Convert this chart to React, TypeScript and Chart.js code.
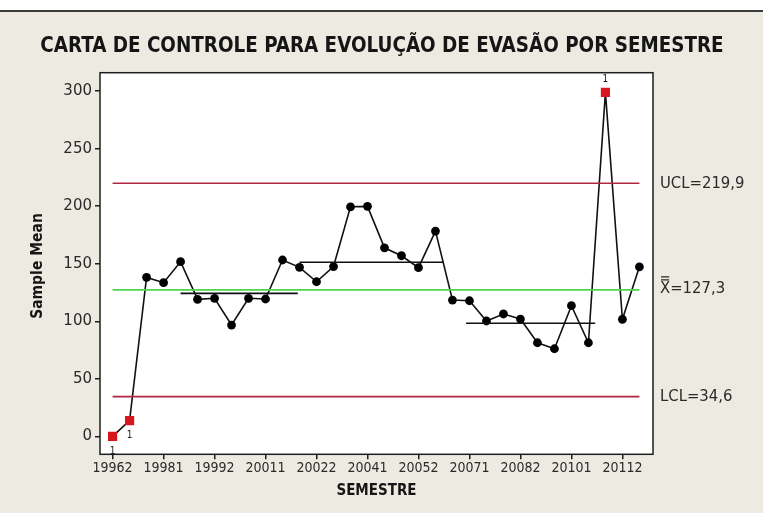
import React, { useEffect, useRef } from 'react';
import { Chart, registerables } from 'chart.js';

Chart.register(...registerables);

// ---- DATA ----
const semesters = [
  '19962', '19971', '19972', '19981', '19982', '19991', '19992', '20001',
  '20002', '20011', '20012', '20021', '20022', '20031', '20032', '20041',
  '20042', '20051', '20052', '20061', '20062', '20071', '20072', '20081',
  '20082', '20091', '20092', '20101', '20102', '20111', '20112', '20121',
];
const sampleMeans = [
  0, 13.7, 138.2, 133.6, 151.8, 119.1, 120, 96.8,
  120, 119.4, 153.3, 146.9, 134.4, 147.6, 199.5, 199.9,
  163.9, 157, 146.6, 178.4, 118.5, 117.9, 100.3, 106.4,
  102, 81.4, 76.2, 113.6, 81.4, 298.9, 101.8, 147.4,
];
const xTickIndices = [0, 3, 6, 9, 12, 15, 18, 21, 24, 27, 30];
const yTickValues = [0, 50, 100, 150, 200, 250, 300];
const UCL = 219.9;
const CENTER = 127.3;
const LCL = 34.6;
const stageStart = [4, 11, 20.8];
const stageEnd = [10.9, 19.5, 28.4];
const stageMean = [124.3, 151.3, 98.3];

const TITLE = 'CARTA DE CONTROLE PARA EVOLUÇÃO DE EVASÃO POR SEMESTRE';
const X_TITLE = 'SEMESTRE';
const Y_TITLE = 'Sample Mean';
const UCL_LABEL = 'UCL=219,9';
const CENTER_LABEL = 'X=127,3';
const LCL_LABEL = 'LCL=34,6';

const W = 763;
const H = 513;
const BG = '#EDEAE1';
const RED = '#B0283F';
const GREEN = '#4ED44E';
const TEXT = '#2a2a2a';
const COND = '"DejaVu Sans Condensed", "DejaVu Sans", sans-serif';

const isOut = (v: number) => v > UCL || v < LCL;

export default function App() {
  const ref = useRef<HTMLCanvasElement | null>(null);

  useEffect(() => {
    const canvas = ref.current;
    if (!canvas) return;

    const lastIdx = sampleMeans.length - 1;
    const points = sampleMeans.map((v, i) => ({ x: i, y: v }));

    const decor = {
      id: 'decor',
      beforeDraw(chart: any) {
        const { ctx, chartArea: ca } = chart;
        ctx.save();
        ctx.fillStyle = BG;
        ctx.fillRect(0, 0, W, H);
        ctx.fillStyle = '#ffffff';
        ctx.fillRect(0, 0, W, 10);
        ctx.fillStyle = '#3c3c3c';
        ctx.fillRect(0, 10, W, 2);
        ctx.fillStyle = '#ffffff';
        ctx.fillRect(ca.left, ca.top, ca.right - ca.left, ca.bottom - ca.top);
        ctx.restore();
      },
      beforeDatasetsDraw(chart: any) {
        const { ctx, chartArea: ca } = chart;
        ctx.save();
        ctx.strokeStyle = '#1e1e1e';
        ctx.lineWidth = 1.5;
        ctx.strokeRect(ca.left, ca.top, ca.right - ca.left, ca.bottom - ca.top);
        ctx.restore();
      },
      afterDraw(chart: any) {
        const { ctx, chartArea: ca, scales } = chart;
        const xs = scales.x;
        const ys = scales.y;
        ctx.save();
        // Title
        ctx.fillStyle = '#151515';
        ctx.textAlign = 'center';
        ctx.textBaseline = 'middle';
        ctx.font = `bold 20.4px ${COND}`;
        ctx.fillText(TITLE, 382, 47);
        // Axis titles
        ctx.font = `bold 15px ${COND}`;
        ctx.fillText(X_TITLE, (ca.left + ca.right) / 2, 491);
        ctx.save();
        ctx.translate(38, 266);
        ctx.rotate(-Math.PI / 2);
        ctx.font = `bold 15.5px ${COND}`;
        ctx.fillText(Y_TITLE, 0, 0);
        ctx.restore();
        // Control limit labels
        ctx.fillStyle = TEXT;
        ctx.textAlign = 'left';
        ctx.font = `16.5px ${COND}`;
        ctx.fillText(UCL_LABEL, 660, ys.getPixelForValue(UCL));
        ctx.fillText(LCL_LABEL, 660, ys.getPixelForValue(LCL));
        const cy = ys.getPixelForValue(CENTER) - 1;
        ctx.fillText(CENTER_LABEL, 660, cy);
        const xw = ctx.measureText('X').width;
        ctx.strokeStyle = TEXT;
        ctx.lineWidth = 1.2;
        ctx.beginPath();
        ctx.moveTo(661, cy - 9);
        ctx.lineTo(660 + xw - 1, cy - 9);
        ctx.moveTo(661, cy - 12);
        ctx.lineTo(660 + xw - 1, cy - 12);
        ctx.stroke();
        // Out-of-control test labels
        ctx.font = `10px ${COND}`;
        ctx.fillStyle = '#222';
        ctx.textAlign = 'center';
        sampleMeans.forEach((v, i) => {
          if (!isOut(v)) return;
          const px = xs.getPixelForValue(i);
          const py = ys.getPixelForValue(v);
          const dy = v > UCL ? -13 : 15;
          ctx.fillText('1', px, py + dy);
        });
        ctx.restore();
      },
    };

    const lineDs = (y: number, color: string) => ({
      data: [
        { x: 0, y },
        { x: lastIdx, y },
      ],
      borderColor: color,
      borderWidth: 1.6,
      pointRadius: 0,
      fill: false,
    });

    const stageDs = stageMean.map((m, k) => ({
      data: [
        { x: stageStart[k], y: m },
        { x: stageEnd[k], y: m },
      ],
      borderColor: '#111',
      borderWidth: 1.6,
      pointRadius: 0,
      fill: false,
    }));

    const chart = new Chart(canvas, {
      type: 'line',
      data: {
        datasets: [
          lineDs(UCL, RED),
          lineDs(CENTER, GREEN),
          lineDs(LCL, RED),
          ...stageDs,
          {
            data: points,
            borderColor: '#111',
            borderWidth: 1.6,
            pointStyle: sampleMeans.map((v) => (isOut(v) ? 'rect' : 'circle')) as any,
            pointRadius: sampleMeans.map((v) => (isOut(v) ? 6.5 : 4.4)),
            pointBackgroundColor: sampleMeans.map((v) => (isOut(v) ? '#D7161E' : '#000')),
            pointBorderColor: sampleMeans.map((v) => (isOut(v) ? '#D7161E' : '#000')),
            pointBorderWidth: 0,
            fill: false,
            tension: 0,
          },
        ] as any,
      },
      options: {
        responsive: false,
        animation: false,
        devicePixelRatio: 1,
        events: [],
        layout: { padding: { top: 72.7, left: 0, right: 110, bottom: 0 } },
        plugins: {
          legend: { display: false },
          tooltip: { enabled: false },
          title: { display: false },
        },
        scales: {
          x: {
            type: 'linear',
            min: -0.74,
            max: 31.8,
            afterBuildTicks: (s: any) => {
              s.ticks = xTickIndices.map((v) => ({ value: v }));
            },
            afterFit: (s: any) => {
              s.height = 58.7;
            },
            border: { display: false },
            grid: { drawOnChartArea: false, tickLength: 5, color: '#1e1e1e', lineWidth: 1.5 },
            ticks: {
              autoSkip: false,
              maxRotation: 0,
              padding: 1,
              color: TEXT,
              font: { family: COND, size: 14 },
              callback: (v: any) => semesters[Math.round(Number(v))],
            },
          },
          y: {
            type: 'linear',
            min: -15.5,
            max: 316,
            afterBuildTicks: (s: any) => {
              s.ticks = yTickValues.map((v) => ({ value: v }));
            },
            afterFit: (s: any) => {
              s.width = 100;
            },
            border: { display: false },
            grid: { drawOnChartArea: false, tickLength: 5, color: '#1e1e1e', lineWidth: 1.5 },
            ticks: {
              padding: 3,
              color: TEXT,
              font: { family: '"DejaVu Sans", sans-serif', size: 15 },
              callback: (v: any) => String(v),
            },
          },
        },
      } as any,
      plugins: [decor],
    });

    return () => chart.destroy();
  }, []);

  return (
    <div style={{ position: 'fixed', left: 0, top: 0, width: W, height: H }}>
      <canvas ref={ref} width={W} height={H} style={{ width: W, height: H, display: 'block' }} />
    </div>
  );
}
